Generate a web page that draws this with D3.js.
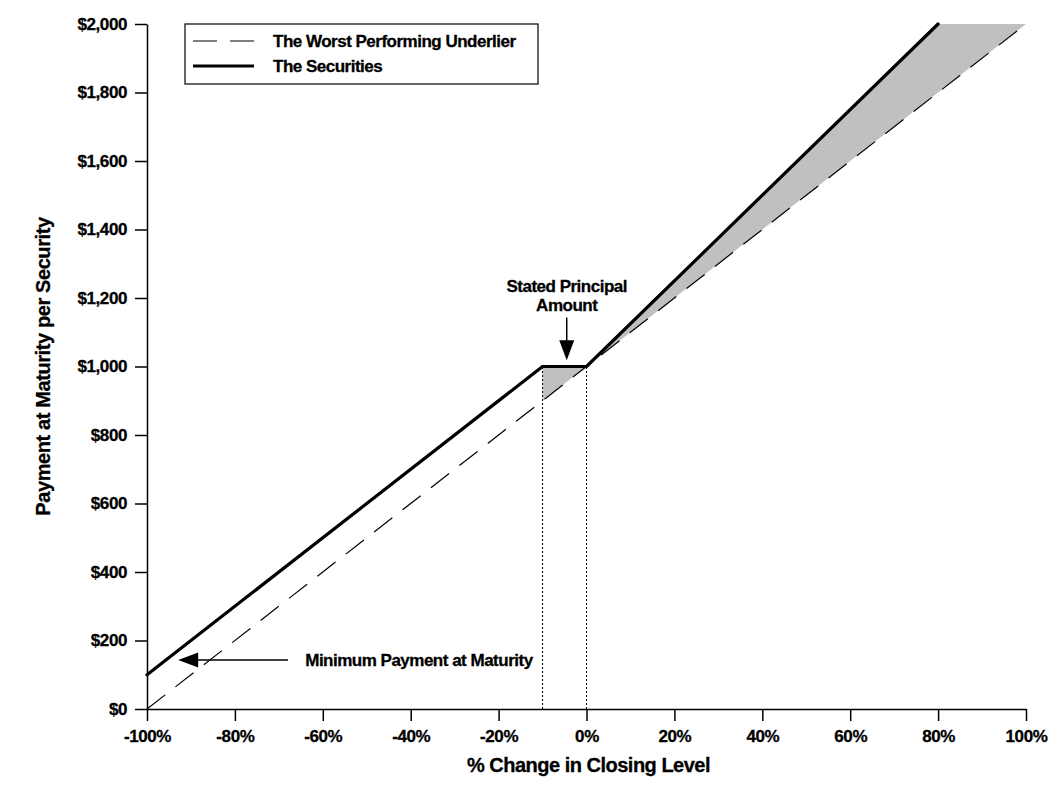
<!DOCTYPE html>
<html>
<head>
<meta charset="utf-8">
<script src="https://cdn.jsdelivr.net/npm/d3@7"></script>
<style>
  body { margin: 0; background: #fff; }
  text { font-family: "Liberation Sans", Arial, sans-serif; font-weight: bold; stroke: #000; stroke-width: 0.3px; }
</style>
</head>
<body>
<div id="chart"></div>
<script>
  // axis ticks
  const xTicks = [-100, -80, -60, -40, -20, 0, 20, 40, 60, 80, 100];
  const yTicks = [0, 200, 400, 600, 800, 1000, 1200, 1400, 1600, 1800, 2000];

  // the worst performing underlier (dashed)
  const underlierX = [-100, 100];
  const underlierY = [0, 2000];

  // the securities (solid)
  const securitiesX = [-100, -10, 0, 80];
  const securitiesY = [100, 1000, 1000, 2000];

  // shaded region between securities and underlier
  const shadeX = [-10, 0, 80, 100];
  const shadeTop = [1000, 1000, 2000, 2000];
  const shadeBottom = [900, 1000, 1800, 2000];

  // buffer bounds (dotted verticals)
  const bufferX = [-10, 0];
  const principal = 1000;

  const width = 1049, height = 791;
  const margin = { top: 24, right: 23, bottom: 82, left: 147 };

  const svg = d3.select('#chart')
    .append('svg')
    .attr('width', width)
    .attr('height', height);

  const x = d3.scaleLinear().domain([-100, 100]).range([margin.left, width - margin.right]);
  const y = d3.scaleLinear().domain([0, 2000]).range([height - margin.bottom, margin.top]);

  // shading
  svg.append('path')
    .datum(shadeX.map((d, i) => ({ x: d, y0: shadeBottom[i], y1: shadeTop[i] })))
    .attr('fill', '#c0c0c0')
    .attr('d', d3.area().x(d => x(d.x)).y0(d => y(d.y0)).y1(d => y(d.y1)));

  // dotted verticals
  svg.selectAll('.buf')
    .data(bufferX)
    .enter()
    .append('line')
    .attr('x1', d => x(d)).attr('x2', d => x(d))
    .attr('y1', y(0)).attr('y2', y(principal))
    .attr('stroke', '#000')
    .attr('stroke-width', 1)
    .attr('stroke-dasharray', '2,2');

  const line = d3.line().x(d => x(d[0])).y(d => y(d[1]));

  // underlier
  svg.append('path')
    .datum(underlierX.map((d, i) => [d, underlierY[i]]))
    .attr('fill', 'none')
    .attr('stroke', '#000')
    .attr('stroke-width', 1.2)
    .attr('stroke-dasharray', '23,13')
    .attr('d', line);

  // securities
  svg.append('path')
    .datum(securitiesX.map((d, i) => [d, securitiesY[i]]))
    .attr('fill', 'none')
    .attr('stroke', '#000')
    .attr('stroke-width', 3.2)
    .attr('stroke-linejoin', 'round')
    .attr('stroke-linecap', 'round')
    .attr('d', line);

  // axes
  const xAxis = svg.append('g')
    .attr('transform', `translate(0,${y(0)})`)
    .call(d3.axisBottom(x).tickValues(xTicks).tickSize(12).tickSizeOuter(0).tickPadding(9)
      .tickFormat(d => d + '%'));

  const yAxis = svg.append('g')
    .attr('transform', `translate(${x(-100)},0)`)
    .call(d3.axisLeft(y).tickValues(yTicks).tickSize(12).tickSizeOuter(0).tickPadding(8)
      .tickFormat(d => '$' + d3.format(',')(d)));

  [xAxis, yAxis].forEach(g => {
    g.selectAll('path, line').attr('stroke', '#000').attr('stroke-width', 1.5);
    g.selectAll('text')
      .attr('fill', '#000')
      .style('font-size', '17px')
      .style('letter-spacing', '-0.4px')
      .style('font-family', '"Liberation Sans", Arial, sans-serif')
      .style('font-weight', 'bold');
  });

  // axis titles
  svg.append('text')
    .attr('x', (x(-100) + x(100)) / 2 + 2)
    .attr('y', 772)
    .attr('text-anchor', 'middle')
    .style('font-size', '20px')
    .style('letter-spacing', '-0.5px')
    .text('% Change in Closing Level');

  svg.append('text')
    .attr('transform', `translate(50,${(y(0) + y(2000)) / 2}) rotate(-90)`)
    .attr('text-anchor', 'middle')
    .style('font-size', '20px')
    .style('letter-spacing', '-0.4px')
    .text('Payment at Maturity per Security');

  // legend
  const legend = svg.append('g');
  legend.append('rect')
    .attr('x', 185).attr('y', 24)
    .attr('width', 353).attr('height', 60)
    .attr('fill', '#fff')
    .attr('stroke', '#000')
    .attr('stroke-width', 1.2);
  legend.append('line')
    .attr('x1', 193).attr('x2', 254).attr('y1', 41).attr('y2', 41)
    .attr('stroke', '#000').attr('stroke-width', 1.2)
    .attr('stroke-dasharray', '24,13');
  legend.append('line')
    .attr('x1', 193).attr('x2', 254).attr('y1', 66).attr('y2', 66)
    .attr('stroke', '#000').attr('stroke-width', 3.2);
  legend.append('text')
    .attr('x', 273).attr('y', 47)
    .style('font-size', '17px').style('letter-spacing', '-0.5px')
    .text('The Worst Performing Underlier');
  legend.append('text')
    .attr('x', 273).attr('y', 72)
    .style('font-size', '17px').style('letter-spacing', '-0.5px')
    .text('The Securities');

  // arrowhead helper: tip at (tx, ty), pointing in direction (dx, dy)
  function arrowHead(tx, ty, dx, dy) {
    const len = 20, half = 7.5;
    const bx = tx - dx * len, by = ty - dy * len;
    const px = -dy * half, py = dx * half;
    return `M${tx},${ty}L${bx + px},${by + py}L${bx - px},${by - py}Z`;
  }

  // Stated Principal Amount annotation
  const spX = x(-4.5);
  svg.append('line')
    .attr('x1', spX).attr('x2', spX)
    .attr('y1', y(1143)).attr('y2', y(1030))
    .attr('stroke', '#000').attr('stroke-width', 1.5);
  svg.append('path')
    .attr('d', arrowHead(spX, y(1018), 0, 1))
    .attr('fill', '#000');
  svg.append('text')
    .attr('x', spX).attr('y', 292)
    .attr('text-anchor', 'middle')
    .style('font-size', '17px').style('letter-spacing', '-0.5px')
    .text('Stated Principal');
  svg.append('text')
    .attr('x', spX).attr('y', 311)
    .attr('text-anchor', 'middle')
    .style('font-size', '17px').style('letter-spacing', '-0.5px')
    .text('Amount');

  // Minimum Payment at Maturity annotation
  const mpY = y(143);
  svg.append('line')
    .attr('x1', x(-67.9)).attr('x2', x(-90))
    .attr('y1', mpY).attr('y2', mpY)
    .attr('stroke', '#000').attr('stroke-width', 1.5);
  svg.append('path')
    .attr('d', arrowHead(x(-92.9), mpY, -1, 0))
    .attr('fill', '#000');
  svg.append('text')
    .attr('x', x(-64)).attr('y', mpY + 6)
    .style('font-size', '17px').style('letter-spacing', '-0.5px')
    .text('Minimum Payment at Maturity');
</script>
</body>
</html>
